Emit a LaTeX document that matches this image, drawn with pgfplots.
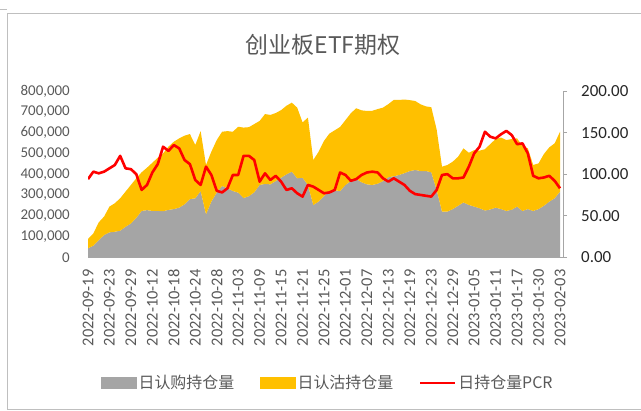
\documentclass[border=0pt]{standalone}
\usepackage{fontspec}
\setmainfont{Carlito}
\newfontfamily\cjk{Noto Sans CJK SC}
\usepackage{pgfplots}
\usepackage{pgfplotstable}
\pgfplotsset{compat=1.18}
\definecolor{cgray}{HTML}{A5A5A5}
\definecolor{cgold}{HTML}{FFC000}
\definecolor{cred}{HTML}{FF0000}
\definecolor{tgray}{HTML}{595959}
\definecolor{agray}{HTML}{A6A6A6}
\definecolor{fgray}{HTML}{BFBFBF}

\pgfplotstableread{
idx call put pcr
0 43000 45000 94
1 56000 59000 103
2 83000 85000 101
3 107000 89000 103
4 120000 124000 107
5 123000 137000 111
6 128000 156000 122
7 147000 169000 107
8 163000 185000 106
9 190000 190000 100
10 223000 186000 81
11 227000 204000 87
12 223000 232000 102
13 223000 256000 112
14 222000 278000 133
15 228000 304000 128
16 232000 324000 135
17 239000 333000 131
18 255000 330000 117
19 280000 313000 112
20 284000 256000 93
21 319000 288000 87
22 207000 237000 109
23 268000 240000 99
24 312000 252000 80
25 343000 261000 78
26 332000 275000 83
27 319000 285000 99
28 311000 317000 99
29 285000 339000 122
30 294000 332000 122
31 313000 328000 117
32 348000 308000 91
33 353000 336000 101
34 351000 334000 93
35 367000 327000 98
36 383000 325000 91
37 399000 330000 81
38 412000 332000 83
39 380000 340000 77
40 383000 266000 73
41 348000 324000 87
42 252000 216000 85
43 268000 240000 81
44 295000 265000 77
45 318000 277000 78
46 322000 289000 81
47 319000 308000 102
48 348000 312000 99
49 367000 326000 92
50 377000 340000 94
51 361000 346000 99
52 351000 353000 102
53 348000 357000 103
54 354000 359000 102
55 367000 353000 95
56 385000 352000 91
57 390000 367000 95
58 396000 361000 91
59 405000 354000 87
60 415000 341000 80
61 420000 332000 76
62 415000 321000 75
63 415000 311000 74
64 409000 313000 73
65 324000 291000 81
66 220000 216000 99
67 220000 224000 100
68 232000 228000 95
69 248000 236000 95
70 264000 260000 96
71 252000 251000 109
72 244000 272000 125
73 236000 277000 133
74 225000 295000 151
75 230000 315000 145
76 239000 330000 143
77 232000 344000 148
78 223000 341000 152
79 229000 340000 147
80 244000 328000 136
81 223000 312000 137
82 232000 292000 125
83 223000 221000 98
84 232000 220000 95
85 248000 249000 96
86 268000 261000 98
87 284000 264000 92
88 316000 288000 83
}\datatable

\begin{document}
\begin{tikzpicture}[x=1bp,y=1bp]
\useasboundingbox (0,0) rectangle (641,410);
\draw[fgray, line width=1bp] (641,1) -- (7,1) -- (7,396) -- (641,396);
\draw[fgray, line width=1bp] (0,400) -- (7,400);
\node[text=tgray, font=\cjk\fontsize{23}{23}\selectfont] at (323,365) {创业板ETF期权};

\begin{axis}[
  at={(88bp,152.7bp)}, anchor=south west, scale only axis,
  width=475bp, height=166.3bp,
  xmin=0, xmax=88.56, ymin=0, ymax=800000,
  axis x line*=bottom, axis y line*=left,
  y axis line style={draw=none},
  x axis line style={agray, line width=1bp},
  axis on top,
  xtick={0,4,...,88},
  xticklabels={2022-09-19,2022-09-23,2022-09-29,2022-10-12,2022-10-18,2022-10-24,2022-10-28,2022-11-03,2022-11-09,2022-11-15,2022-11-21,2022-11-25,2022-12-01,2022-12-07,2022-12-13,2022-12-19,2022-12-23,2022-12-29,2023-01-05,2023-01-11,2023-01-17,2023-01-30,2023-02-03},
  major tick length=0,
  xticklabel style={rotate=90, anchor=east, font=\fontsize{16.5}{16.5}\selectfont, text=tgray, inner sep=0pt},
  xticklabel shift=12bp,
  ytick={0,100000,...,800000},
  scaled y ticks=false,
  yticklabel style={font=\fontsize{15}{15}\selectfont, text=tgray, inner sep=0pt, /pgf/number format/.cd, fixed, 1000 sep={,}, precision=0, assume math mode=true},
  yticklabel shift=18bp,
]
\addplot[fill=cgray, draw=none, stack plots=y] table[x=idx,y=call]{\datatable} \closedcycle;
\addplot[fill=cgold, draw=none, stack plots=y] table[x=idx,y=put]{\datatable} \closedcycle;
\end{axis}

\begin{axis}[
  at={(88bp,152.7bp)}, anchor=south west, scale only axis,
  width=475bp, height=166.3bp,
  xmin=0, xmax=88.56, ymin=0, ymax=200,
  axis x line=none, axis y line*=right,
  y axis line style={agray, line width=1bp},
  ytick={0,50,...,200},
  tick align=outside, major tick length=4bp,
  ytick style={agray, line width=1bp},
  yticklabel style={font=\fontsize{17}{17}\selectfont, text=black!85, inner sep=0pt, /pgf/number format/.cd, fixed, fixed zerofill, precision=2, assume math mode=true},
  yticklabel shift=14bp,
  legend columns=3,
  legend cell align=left,
  legend style={at={(axis description cs:0.505,-0.756)}, anchor=center, draw=none, fill=none, font=\cjk\fontsize{16}{16}\selectfont, text=tgray, inner sep=0pt, nodes={inner sep=2bp}, /tikz/every even column/.append style={column sep=24bp}},
]
\addlegendimage{legend image code/.code={\fill[cgray] (0bp,-5.5bp) rectangle (35bp,5.5bp);}}
\addlegendentry{日认购持仓量}
\addlegendimage{legend image code/.code={\fill[cgold] (0bp,-5.5bp) rectangle (35bp,5.5bp);}}
\addlegendentry{日认沽持仓量}
\addplot[cred, line width=2.6bp, line join=round, legend image code/.code={\draw[cred,line width=2.2bp] (0bp,0bp)--(35bp,0bp);}] table[x=idx,y=pcr]{\datatable};
\addlegendentry{日持仓量PCR}
\end{axis}
\end{tikzpicture}
\end{document}
